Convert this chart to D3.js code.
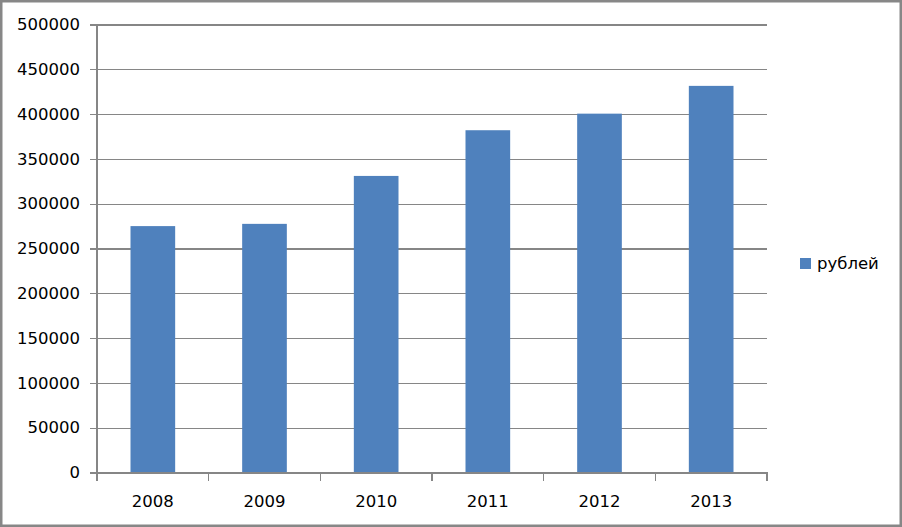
<!DOCTYPE html>
<html>
<head>
<meta charset="utf-8">
<script src="https://cdn.jsdelivr.net/npm/d3@7"></script>
<style>
    html,body{margin:0;padding:0;background:#fff;}
    svg{display:block;}
</style>
</head>
<body>
<div id="chart"></div>
<script>
var years = ["2008","2009","2010","2011","2012","2013"];
var rubles = [275000,277500,331000,382000,400500,431500];
var yTicks = [0,50000,100000,150000,200000,250000,300000,350000,400000,450000,500000];
var seriesName = "рублей";

var width = 902, height = 527;
var plot = {left:97, right:767, top:24.5, bottom:472.5};
var gridColor = "#868686";
var barColor = "#4f81bd";
var font = "'DejaVu Sans', sans-serif";

var svg = d3.select("#chart").append("svg")
    .attr("width",width)
    .attr("height",height);

// outer frame
svg.append("rect")
    .attr("x",1.25).attr("y",1.25)
    .attr("width",width-2.5).attr("height",height-2.5)
    .attr("fill","#fff")
    .attr("stroke","#878787")
    .attr("stroke-width",2.5);

var x = d3.scaleBand()
    .domain(years)
    .range([plot.left,plot.right])
    .paddingInner(0.6)
    .paddingOuter(0.3);

var xTickScale = d3.scaleBand()
    .domain(years)
    .range([plot.left,plot.right]);

var y = d3.scaleLinear()
    .domain([0,500000])
    .range([plot.bottom,plot.top]);

// gridlines + y axis ticks
var yAxis = d3.axisLeft(y)
    .tickValues(yTicks)
    .tickSize(-(plot.right-plot.left))
    .tickFormat(d3.format("d"))
    .tickPadding(17);

var gy = svg.append("g")
    .attr("transform","translate("+plot.left+",0)")
    .call(yAxis);
gy.select(".domain").remove();
gy.selectAll(".tick line")
    .attr("x1",-7)
    .attr("stroke",gridColor)
    .attr("stroke-width",1.2)
    .attr("shape-rendering","crispEdges");
gy.selectAll(".tick text")
    .attr("font-family",font)
    .attr("font-size","16.5px")
    .attr("fill","#000");

// bars
svg.append("g").selectAll("rect")
    .data(rubles)
    .enter().append("rect")
    .attr("x",function(d,i){return x(years[i]);})
    .attr("y",function(d){return y(d);})
    .attr("width",x.bandwidth())
    .attr("height",function(d){return y(0)-y(d);})
    .attr("fill",barColor);

// y axis line
svg.append("line")
    .attr("x1",plot.left).attr("x2",plot.left)
    .attr("y1",plot.top).attr("y2",plot.bottom)
    .attr("stroke",gridColor)
    .attr("stroke-width",1.2)
    .attr("shape-rendering","crispEdges");

// x axis
var xAxis = d3.axisBottom(xTickScale)
    .tickSize(0)
    .tickPadding(23);
var gx = svg.append("g")
    .attr("transform","translate(0,"+plot.bottom+")")
    .call(xAxis);
gx.select(".domain")
    .attr("stroke",gridColor)
    .attr("stroke-width",1.2)
    .attr("shape-rendering","crispEdges");
gx.selectAll(".tick text")
    .attr("font-family",font)
    .attr("font-size","16.5px")
    .attr("fill","#000");

// x tick marks at band edges
var edges = years.map(function(d){return xTickScale(d);}).concat([plot.right]);
gx.selectAll("line.edge")
    .data(edges)
    .enter().append("line")
    .attr("class","edge")
    .attr("x1",function(d){return d;}).attr("x2",function(d){return d;})
    .attr("y1",0).attr("y2",8)
    .attr("stroke",gridColor)
    .attr("stroke-width",1.2)
    .attr("shape-rendering","crispEdges");

// legend
var legend = svg.append("g").attr("transform","translate(800,258)");
legend.append("rect")
    .attr("width",11).attr("height",11)
    .attr("fill",barColor);
legend.append("text")
    .text(seriesName)
    .attr("x",17)
    .attr("y",11)
    .attr("font-family",font)
    .attr("font-size","16.5px")
    .attr("fill","#000");
</script>
</body>
</html>
